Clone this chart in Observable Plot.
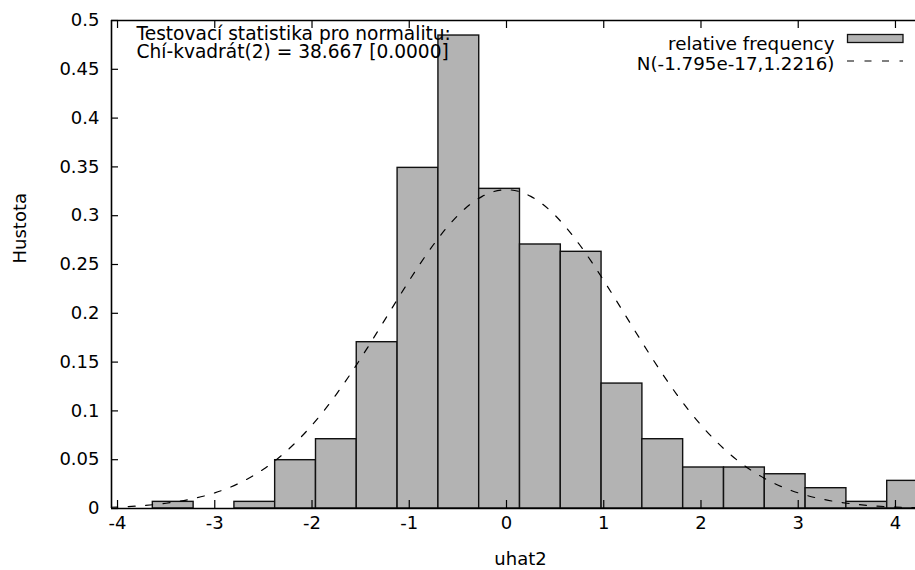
<!DOCTYPE html>
<html>
<head>
<meta charset="utf-8">
<script src="https://cdn.jsdelivr.net/npm/d3@7"></script>
<script src="https://cdn.jsdelivr.net/npm/@observablehq/plot@0.6"></script>
<style>
  html, body { margin: 0; padding: 0; background: #fff; overflow: hidden; }
</style>
</head>
<body>
<div id="chart"></div>
<script>
// Histogram bins (left edges), common bin width
const binStart = [-4.057, -3.637, -3.218, -2.798, -2.379, -1.959, -1.540, -1.120, -0.700, -0.281,
                  0.139, 0.558, 0.978, 1.397, 1.817, 2.237, 2.656, 3.076, 3.495, 3.915];
const binWidth = 0.4196;
const relFreq = [0, 0.0068, 0, 0.0068, 0.0495, 0.071, 0.1704, 0.349, 0.4846, 0.3275,
                 0.2705, 0.263, 0.128, 0.071, 0.042, 0.042, 0.0351, 0.0208, 0.0068, 0.0283];

// Dashed normal density curve
const curveX = [-4.25, -4, -3.75, -3.5, -3.25, -3, -2.75, -2.5, -2.25, -2, -1.75, -1.5, -1.25, -1, -0.75, -0.5, -0.25,
                0, 0.25, 0.5, 0.75, 1, 1.25, 1.5, 1.75, 2, 2.25, 2.5, 2.75, 3, 3.25, 3.5, 3.75, 4, 4.25];
const curveY = [0.0008, 0.0015, 0.0029, 0.0054, 0.0095, 0.016, 0.0259, 0.0402, 0.0599, 0.0855, 0.117, 0.1537, 0.1935, 0.2336, 0.2705, 0.3003, 0.3198,
                0.3266, 0.3198, 0.3003, 0.2705, 0.2336, 0.1935, 0.1537, 0.117, 0.0855, 0.0599, 0.0402, 0.0259, 0.016, 0.0095, 0.0054, 0.0029, 0.0015, 0.0008];

const xTicks = [-4, -3, -2, -1, 0, 1, 2, 3, 4];
const yTicks = [0, 0.05, 0.1, 0.15, 0.2, 0.25, 0.3, 0.35, 0.4, 0.45, 0.5];
const xDomain = [-4.062, 4.206];
const yDomain = [0, 0.5];

const annotation = "Testovací statistika pro normalitu:\nChí-kvadrát(2) = 38.667 [0.0000]";
const legendLabels = ["relative frequency", "N(-1.795e-17,1.2216)"];
const xLabel = "uhat2";
const yLabel = "Hustota";

const bins = binStart.map((x, i) => ({x1: x, x2: x + binWidth, y: relFreq[i]}));
const curve = curveX.map((x, i) => ({x, y: curveY[i]}));

const W = 915, H = 570, mL = 111, mR = 0, mT = 20, mB = 62;
const innerW = W - mL - mR, innerH = H - mT - mB;

const svg = Plot.plot({
  width: W, height: H,
  marginLeft: mL, marginRight: mR, marginTop: mT, marginBottom: mB,
  style: {fontFamily: "DejaVu Sans", fontSize: "18px", color: "#000", background: "#fff", overflow: "hidden"},
  x: {domain: xDomain, ticks: xTicks, tickSize: 0, tickPadding: 8, tickFormat: d => String(d), label: null},
  y: {domain: yDomain, ticks: yTicks, tickSize: 0, tickPadding: 12, tickFormat: d => String(d), label: null},
  marks: [
    Plot.rectY(bins, {x1: "x1", x2: "x2", y: "y", fill: "#b3b3b3", stroke: "#111", strokeWidth: 1.4, clip: true}),
    Plot.line(curve, {x: "x", y: "y", stroke: "#000", strokeWidth: 1.2, strokeDasharray: "7,10.5", curve: "natural", clip: true}),
    // frame: left, bottom, top
    Plot.ruleX([xDomain[0]], {stroke: "#000", strokeWidth: 1.6}),
    Plot.ruleY([yDomain[0], yDomain[1]], {stroke: "#000", strokeWidth: 1.6}),
    // inward ticks
    Plot.tickX(xTicks, {x: d => d, insetTop: innerH - 8, stroke: "#000", strokeWidth: 1.2}),
    Plot.tickX(xTicks, {x: d => d, insetBottom: innerH - 8, stroke: "#000", strokeWidth: 1.2}),
    Plot.tickY(yTicks, {y: d => d, insetRight: innerW - 7, stroke: "#000", strokeWidth: 1.2}),
    // annotation text
    Plot.text([annotation], {frameAnchor: "top-left", dx: 25, dy: 6.8, text: d => d, textAnchor: "start",
      lineAnchor: "top", lineHeight: 0.97, fill: "#000", fontSize: 18.6}),
    // legend labels
    Plot.text([legendLabels.join("\n")], {frameAnchor: "top-right", dx: -81, dy: 14.9, text: d => d, textAnchor: "end",
      lineAnchor: "top", lineHeight: 1.11, fill: "#000", fontSize: 18.3}),
    // axis titles
    Plot.text([xLabel], {frameAnchor: "bottom", dx: 7, dy: 56, text: d => d, lineAnchor: "bottom", fill: "#000", fontSize: 18}),
    Plot.text([yLabel], {frameAnchor: "left", dx: -91, dy: -1, rotate: -90, text: d => d, fill: "#000", fontSize: 18})
  ]
});

// legend keys
const g = d3.select(svg).append("g");
g.append("rect").attr("x", 847.5).attr("y", 34.5).attr("width", 55.5).attr("height", 8)
  .attr("fill", "#b3b3b3").attr("stroke", "#111").attr("stroke-width", 1.3);
g.append("line").attr("x1", 847).attr("x2", 903).attr("y1", 61).attr("y2", 61)
  .attr("stroke", "#000").attr("stroke-width", 1.2).attr("stroke-dasharray", "7,10.5");

document.getElementById("chart").appendChild(svg);
</script>
</body>
</html>
